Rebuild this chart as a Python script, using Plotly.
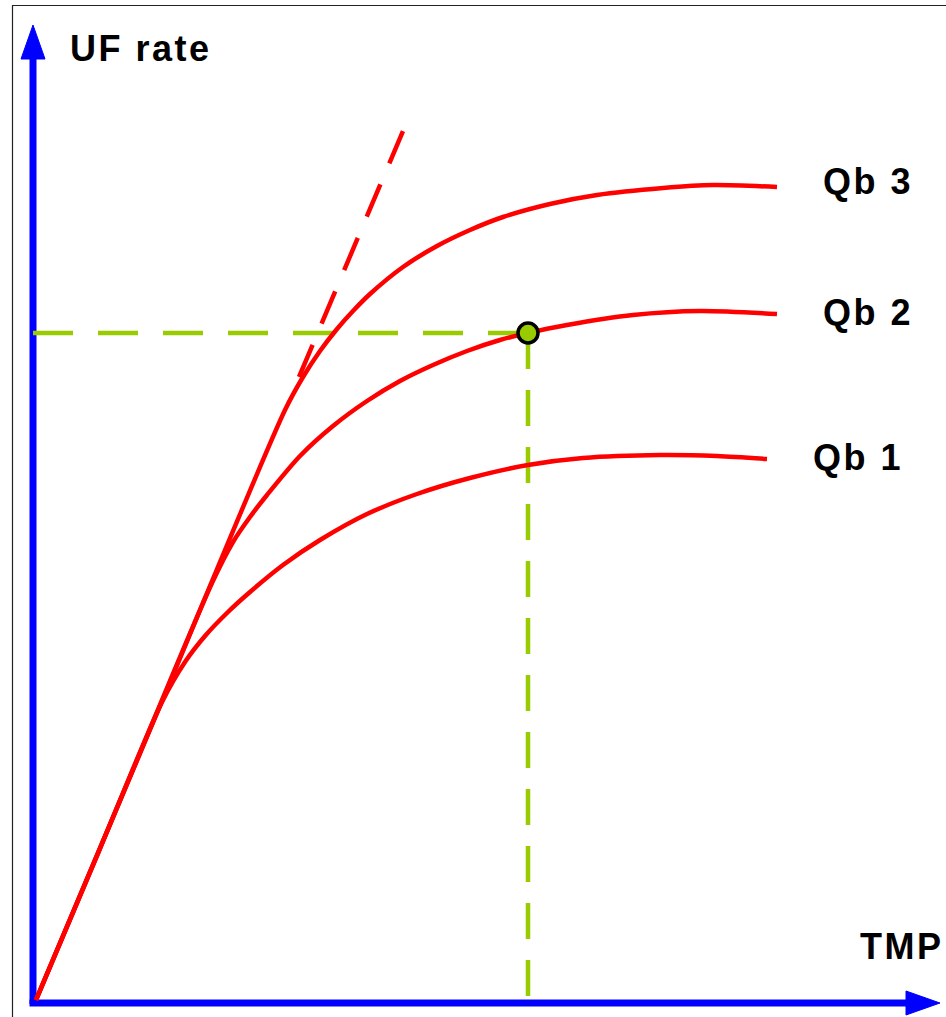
import plotly.graph_objects as go

# Ultrafiltration rate vs. transmembrane pressure for three blood flows.
# Units are schematic: TMP and UF rate share one linear scale per axis.
tmp_qb1 = [0, 63, 126, 149, 169, 192, 214, 247, 284, 331, 381, 434, 492, 547, 624, 681, 731]
uf_qb1 = [0, 149, 298, 338, 364, 388, 408, 435, 460, 486, 506, 522, 535, 542, 545, 544, 541]

tmp_qb2 = [0, 88, 176, 197, 214, 231, 264, 297, 331, 364, 397, 431, 464, 492, 531, 597, 664, 741]
uf_qb2 = [0, 209, 417, 458, 483, 505, 544, 574, 599, 619, 635, 649, 660, 667, 675, 685, 689, 686]

tmp_qb3 = [0, 124, 249, 267, 284, 301, 317, 334, 367, 401, 434, 467, 514, 561, 627, 677, 741]
uf_qb3 = [0, 294, 590, 623, 649, 671, 689, 706, 733, 754, 770, 783, 796, 805, 812, 815, 813]

# Extension of the initial (membrane-limited) slope
tangent_tmp = [263, 367]
tangent_uf = [623, 869]

# Operating point on the Qb 2 curve
op_tmp = 492
op_uf = 667

curve_names = ["Qb 1", "Qb 2", "Qb 3"]
label_yshift = [1.5, 1.5, 5.5]

RED = "#FF0000"
BLUE = "#0000FF"
GREEN = "#99CC00"
FONT = "Liberation Sans, Arial, sans-serif"

# Axis geometry (data units)
AX0 = -3          # position of both drawn axes
Y_TIP = 975
X_TIP = 904
HEAD_LEN = 34
HEAD_HALF = 12

fig = go.Figure()

# Guide lines from the operating point to both axes
fig.add_trace(go.Scatter(
    x=[op_tmp, AX0], y=[op_uf, op_uf], mode="lines",
    line=dict(color=GREEN, width=4.5, dash="40px,25px"), hoverinfo="skip"))
fig.add_trace(go.Scatter(
    x=[op_tmp, op_tmp], y=[op_uf, AX0], mode="lines",
    line=dict(color=GREEN, width=4.5, dash="36px,21px"), hoverinfo="skip"))

# Dashed tangent
fig.add_trace(go.Scatter(
    x=tangent_tmp, y=tangent_uf, mode="lines",
    line=dict(color=RED, width=4.5, dash="35px,23px"), hoverinfo="skip"))

# UF curves
curves = [(tmp_qb1, uf_qb1), (tmp_qb2, uf_qb2), (tmp_qb3, uf_qb3)]
for (xs, ys), name in zip(curves, curve_names):
    fig.add_trace(go.Scatter(
        x=xs, y=ys, mode="lines", name=name,
        line=dict(color=RED, width=4.5, shape="spline", smoothing=0.8),
        hoverinfo="skip"))

# Operating point marker
fig.add_trace(go.Scatter(
    x=[op_tmp], y=[op_uf], mode="markers",
    marker=dict(size=20, color=GREEN, line=dict(color="black", width=3.5)),
    hoverinfo="skip"))

shapes = [
    # outer frame
    dict(type="rect", xref="paper", yref="paper",
         x0=12.5 / 946, x1=1.05, y0=-0.05, y1=1 - 5.5 / 1017,
         line=dict(color="#222222", width=1.2), layer="below"),
    # axis shafts
    dict(type="line", xref="x", yref="y", x0=AX0, y0=AX0 - 1, x1=AX0, y1=Y_TIP - HEAD_LEN + 2,
         line=dict(color=BLUE, width=7), layer="below"),
    dict(type="line", xref="x", yref="y", x0=AX0 - 3.5, y0=AX0, x1=X_TIP - HEAD_LEN + 2, y1=AX0,
         line=dict(color=BLUE, width=7), layer="below"),
    # arrow heads
    dict(type="path", xref="x", yref="y", layer="below",
         path=f"M {AX0 - HEAD_HALF},{Y_TIP - HEAD_LEN} L {AX0 + HEAD_HALF},{Y_TIP - HEAD_LEN} L {AX0},{Y_TIP} Z",
         fillcolor=BLUE, line=dict(color=BLUE, width=1)),
    dict(type="path", xref="x", yref="y", layer="below",
         path=f"M {X_TIP - HEAD_LEN},{AX0 - HEAD_HALF} L {X_TIP - HEAD_LEN},{AX0 + HEAD_HALF} L {X_TIP},{AX0} Z",
         fillcolor=BLUE, line=dict(color=BLUE, width=1)),
]


def label(text, **kw):
    return dict(text=f'<span style="letter-spacing:2.5px">{text}</span>',
                showarrow=False, xanchor="left", yanchor="middle",
                font=dict(family=FONT, size=36, color="black", weight="bold"), **kw)


annotations = [
    label("UF rate", x=32, y=951.5, xref="x", yref="y"),
    label("TMP", x=822, y=53.5, xref="x", yref="y"),
]
for (xs, ys), name, dy in zip(curves, curve_names, label_yshift):
    annotations.append(label(name, x=xs[-1], y=ys[-1], xref="x", yref="y",
                             xshift=44, yshift=dy))

fig.update_layout(
    width=946, height=1017,
    margin=dict(l=0, r=0, t=0, b=0),
    paper_bgcolor="white", plot_bgcolor="white",
    showlegend=False,
    xaxis=dict(range=[-36, 910], visible=False, fixedrange=True),
    yaxis=dict(range=[-17, 1000], visible=False, fixedrange=True),
    shapes=shapes,
    annotations=annotations,
)

fig.write_html("out.html")
